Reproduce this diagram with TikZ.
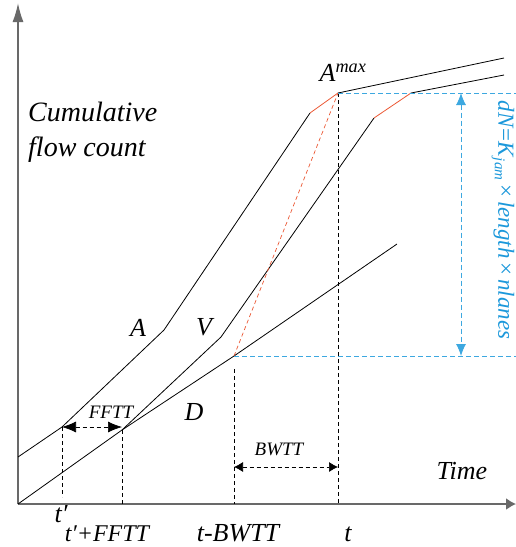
\documentclass[tikz,border=0pt]{standalone}
\usepackage{fontspec}
\setmainfont{Liberation Serif}
\usetikzlibrary{arrows.meta}
\definecolor{surgered}{RGB}{236, 88, 52}
\definecolor{jamblue}{RGB}{27, 152, 219}
\definecolor{axisgrey}{RGB}{105, 105, 105}
\newcommand{\lblsize}{\fontsize{26}{35}\selectfont\itshape}
\newcommand{\tagsize}{\fontsize{19}{22}\selectfont\itshape}

\begin{document}
\begin{tikzpicture}[x=1pt, y=-1pt,
    curve/.style={black, line width=0.8pt},
    surge/.style={surgered, line width=0.8pt},
    guide/.style={black, line width=0.7pt, dash pattern=on 4pt off 3pt},
    jamguide/.style={jamblue!85, line width=1pt, dash pattern=on 5pt off 3pt},
    lbl/.style={font=\lblsize, inner sep=0pt},
    tag/.style={font=\tagsize, inner sep=0pt}]
  \clip (0,0) rectangle (516,547);
  \fill[white] (0,0) rectangle (516,547);

  % axes
  \coordinate (O) at (18,504);
  \coordinate (ytop) at (18,3);
  \coordinate (xend) at (516,504);
  \draw[axisgrey, line width=1.6pt, -{Latex[length=19pt,width=11pt]}] (O) -- (ytop);
  \draw[axisgrey, line width=1.6pt, -{Latex[length=10pt,width=12pt]}] (O) -- (xend);

  % departure curve D
  \coordinate (D1) at (122,430);
  \coordinate (D2) at (234,356);
  \coordinate (D3) at (397,244);
  \draw[curve] (O) -- (D1) -- (D2) -- (D3);

  % arrival curve A
  \coordinate (A0) at (18,457);
  \coordinate (A1) at (62,427);
  \coordinate (A2) at (164,330);
  \coordinate (A3) at (310,113);
  \coordinate (Amax) at (338,93);
  \coordinate (A5) at (504,58);
  \draw[curve] (A0) -- (A1) -- (A2) -- (A3);
  \draw[surge] (A3) -- (Amax);
  \draw[curve] (Amax) -- (A5);

  % virtual curve V
  \coordinate (V1) at (221,337);
  \coordinate (V2) at (374,118);
  \coordinate (V3) at (411,93);
  \coordinate (V4) at (504,75);
  \draw[curve] (D1) -- (V1) -- (V2);
  \draw[surge] (V2) -- (V3);
  \draw[curve] (V3) -- (V4);

  \draw[surgered, line width=0.7pt, dash pattern=on 4pt off 3pt] (D2) -- (Amax);

  % guides down to the time axis
  \coordinate (tpfoot) at (62,497);
  \coordinate (bwtop) at (234,369);
  \draw[guide] (A1) -- (tpfoot);
  \draw[guide] (D1) -- (D1 |- O);
  \draw[guide] (bwtop) -- (bwtop |- O);
  \draw[guide] (Amax) -- (Amax |- O);

  % travel times
  \coordinate (bwl) at (234,467);
  \coordinate (bwr) at (338,467);
  \draw[guide, {Latex[length=14pt,width=11pt]}-{Latex[length=14pt,width=11pt]}]
        (A1) -- (A1 -| D1);
  \draw[guide, {Latex[length=9pt,width=10pt]}-{Latex[length=9pt,width=10pt]}]
        (bwl) -- (bwr);

  % jam storage
  \coordinate (jr1) at (516,93);
  \coordinate (jr2) at (516,356);
  \coordinate (jtop) at (461,93);
  \coordinate (jbot) at (461,356);
  \draw[jamguide] (Amax) -- (jr1);
  \draw[jamguide] (D2) -- (jr2);
  \draw[jamguide, {Latex[length=12pt,width=10pt]}-{Latex[length=12pt,width=10pt]}]
        (jtop) -- (jbot);

  % labels
  \node[lbl, font=\fontsize{28}{35}\selectfont\itshape, align=left, anchor=west]
        (ylabel) at (28,132) {Cumulative\\flow count};
  \node[lbl] (amaxlbl) at (343,73) {A\textsuperscript{max}};
  \node[lbl] (albl) at (138,328) {A};
  \node[lbl] (vlbl) at (204,327) {V};
  \node[lbl] (dlbl) at (194,412) {D};
  \node[tag] (fftt) at (111,412) {FFTT};
  \node[tag] (bwtt) at (279,449) {BWTT};
  \node[lbl] (timelbl) at (462,471) {Time};
  \node[lbl] (tp) at (61,514) {t′};
  \node[lbl, font=\fontsize{24}{30}\selectfont\itshape] (tpf) at (107,534) {t′+FFTT};
  \node[lbl] (tbw) at (238,533) {t-BWTT};
  \node[lbl] (tt) at (348,534) {t};
  \node[font=\fontsize{23}{26}\selectfont, text=jamblue, rotate=-90, inner sep=0pt]
        (dNlbl) at (503,220)
        {\textit{dN}=\textit{K}\raisebox{-0.35ex}{\fontsize{15}{15}\selectfont\itshape jam}\,×\,\textit{length}\,×\,\textit{nlanes}};
\end{tikzpicture}
\end{document}
